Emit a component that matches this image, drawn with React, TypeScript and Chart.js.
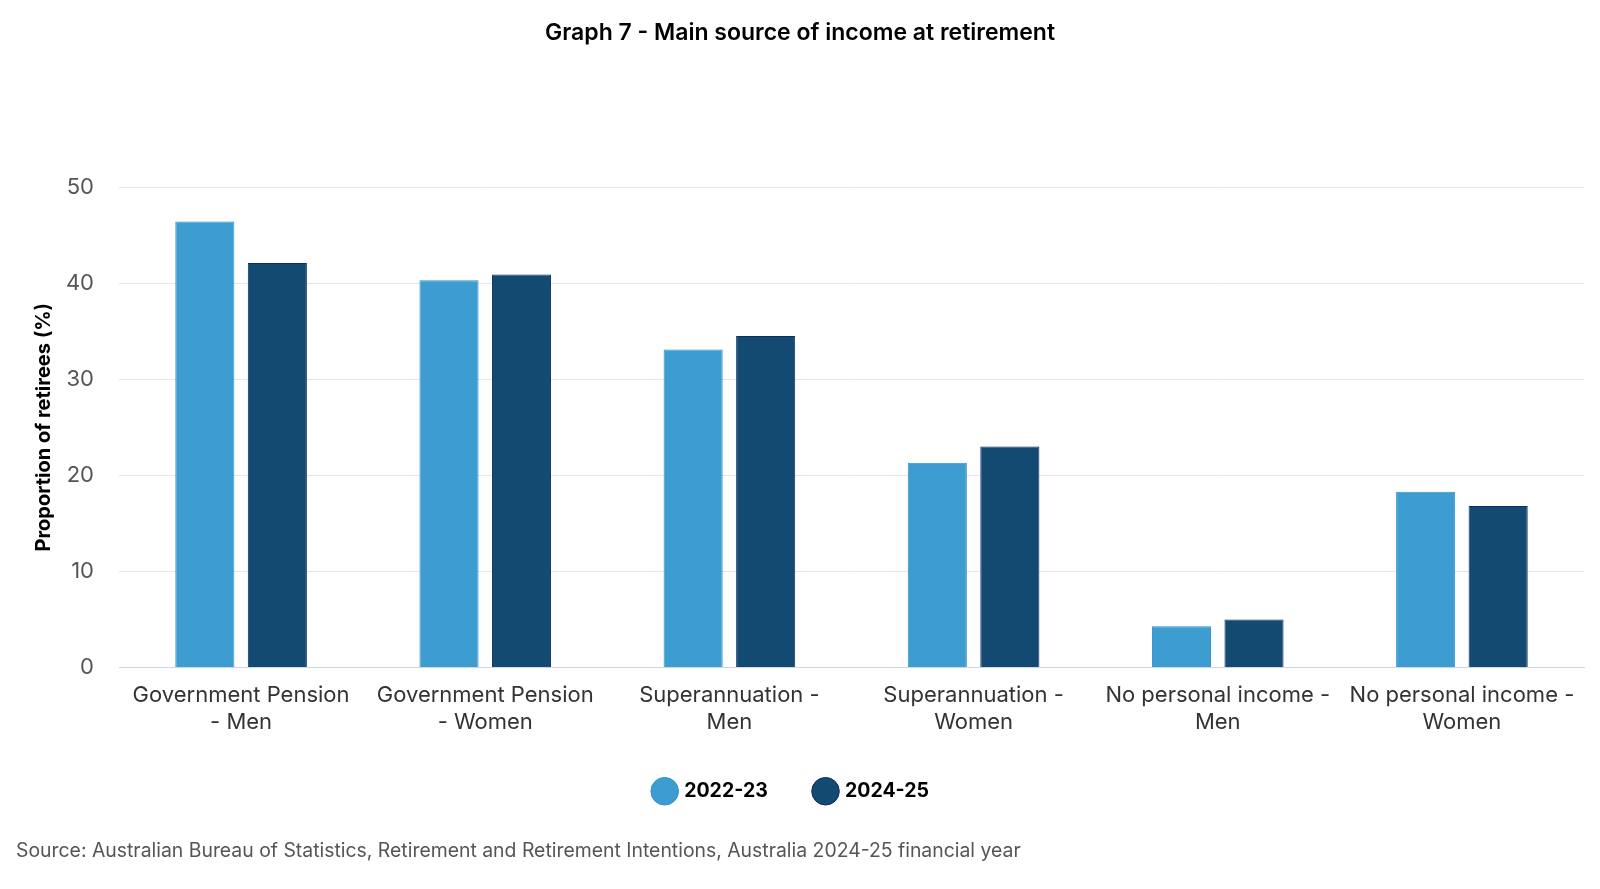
import React, { useEffect, useRef } from "react";
import { Chart, registerables } from "chart.js";

Chart.register(...registerables);

const categories: string[][] = [
  ["Government Pension", "- Men"],
  ["Government Pension", "- Women"],
  ["Superannuation -", "Men"],
  ["Superannuation -", "Women"],
  ["No personal income -", "Men"],
  ["No personal income -", "Women"],
];
const series2022: number[] = [46.4, 40.3, 33.1, 21.3, 4.3, 18.3];
const series2024: number[] = [42.1, 40.9, 34.5, 23.0, 5.0, 16.8];
const seriesNames: string[] = ["2022-23", "2024-25"];
const yTicks: number[] = [0, 10, 20, 30, 40, 50];

const FONT = "Inter, 'Noto Sans', sans-serif";

export default function App() {
  const ref = useRef<HTMLCanvasElement | null>(null);

  useEffect(() => {
    document.body.style.margin = "0";
    document.body.style.overflow = "hidden";
    if (!ref.current) return;
    const chart = new Chart(ref.current, {
      type: "bar",
      data: {
        labels: categories,
        datasets: [
          {
            label: seriesNames[0],
            data: series2022,
            backgroundColor: "#3d9dd1",
            borderColor: "#2e90cf",
            borderWidth: 1,
            categoryPercentage: 0.594,
            barPercentage: 0.815,
          },
          {
            label: seriesNames[1],
            data: series2024,
            backgroundColor: "#134a72",
            borderColor: "#0b2f62",
            borderWidth: 1,
            categoryPercentage: 0.594,
            barPercentage: 0.815,
          },
        ],
      },
      options: {
        animation: false,
        responsive: false,
        maintainAspectRatio: false,
        layout: { padding: { top: 187, left: 0, right: 16, bottom: 78 } },
        plugins: {
          title: { display: false },
          tooltip: { enabled: false },
          legend: {
            position: "bottom",
            labels: {
              usePointStyle: true,
              pointStyle: "circle",
              color: "#000",
              padding: 48,
              font: { family: FONT, size: 19.5, weight: "bold" },
            },
          },
        },
        scales: {
          x: {
            grid: { display: false, drawTicks: false },
            border: { display: true, color: "#ccd6eb", width: 1 },
            afterFit: (axis: any) => {
              axis.height = 66;
            },
            ticks: {
              color: "#333",
              padding: 14,
              maxRotation: 0,
              autoSkip: false,
              font: { family: FONT, size: 22, lineHeight: 1.25 },
            },
          },
          y: {
            min: 0,
            max: 50,
            afterBuildTicks: (axis: any) => {
              axis.ticks = yTicks.map((v) => ({ value: v }));
            },
            afterFit: (axis: any) => {
              axis.width = 119;
            },
            grid: { color: "#e6e6e6", drawTicks: false, lineWidth: 1 },
            border: { display: false },
            ticks: {
              color: "#555",
              padding: 25,
              font: { family: FONT, size: 22 },
            },
            title: {
              display: true,
              text: "Proportion of retirees (%)",
              color: "#000",
              padding: { top: 32, bottom: 0 },
              font: { family: FONT, size: 20, weight: "bold" },
            },
          },
        },
      },
    });
    return () => chart.destroy();
  }, []);

  return (
    <div
      style={{
        position: "fixed",
        top: 0,
        left: 0,
        width: 1600,
        height: 889,
        overflow: "hidden",
        background: "#fff",
      }}
    >
      <div
        style={{
          position: "absolute",
          top: 18,
          left: 0,
          width: 1600,
          textAlign: "center",
          fontFamily: FONT,
          fontWeight: 600,
          fontSize: 23,
          color: "#000",
        }}
      >
        Graph 7 - Main source of income at retirement
      </div>
      <canvas ref={ref} width={1600} height={889} style={{ display: "block", width: 1600, height: 889 }} />
      <div
        style={{
          position: "absolute",
          top: 838,
          left: 16,
          fontFamily: FONT,
          fontSize: 19.4,
          color: "#555",
        }}
      >
        Source: Australian Bureau of Statistics, Retirement and Retirement Intentions, Australia 2024-25 financial year
      </div>
    </div>
  );
}
